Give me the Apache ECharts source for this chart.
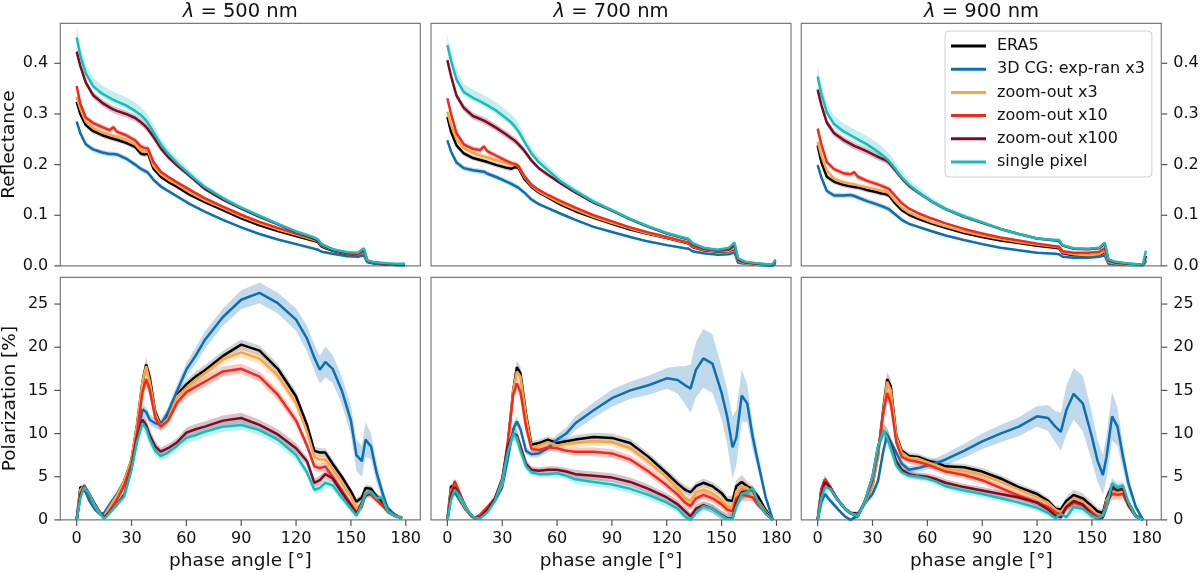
<!doctype html>
<html>
<head>
<meta charset="utf-8">
<title>phase angle</title>
<script src="https://cdn.jsdelivr.net/npm/echarts@6/dist/echarts.min.js"></script>
</head>
<body style="margin:0;padding:0">
<div id="main" style="width:1200px;height:573px;"></div>
<script>
// phase angles (deg) for reflectance and polarization curves
var angR = [0,2,5,9,14,18,20,22,27,32, 35,37,39,42,46,50,55,62,70,80, 90,100,110,120,130,132,134,140,148,154, 157,159,163,170,176,178,179.5];
var angP = [0,2,4,7,10,13,15,18,22,26, 30,33,36,38,40,43,46,50,55,60, 65,70,80,90,100,110,120,126,130,133, 136,140,145,150,153,156,158,161,164,167, 170,174,178];

var names = ['ERA5', '3D CG: exp-ran x3', 'zoom-out x3', 'zoom-out x10', 'zoom-out x100', 'single pixel'];
var waves = ['500', '700', '900'];
var xTicks = [0, 30, 60, 90, 120, 150, 180];
var reflTicks = [0, 0.1, 0.2, 0.3, 0.4];
var polTicks = [0, 5, 10, 15, 20, 25];

// reflectance, 500 nm
var r500Era5 = [0.324,0.300,0.278,0.266,0.258,0.253,0.251,0.249,0.243,0.235, 0.222,0.220,0.222,0.192,0.176,0.166,0.156,0.140,0.126,0.110, 0.094,0.080,0.069,0.059,0.049,0.047,0.038,0.030,0.023,0.021, 0.025,0.008,0.005,0.003,0.002,0.002,0.002];
var r500Cg = [0.285,0.262,0.240,0.230,0.224,0.221,0.221,0.220,0.212,0.200, 0.192,0.188,0.184,0.170,0.157,0.148,0.137,0.122,0.107,0.091, 0.076,0.063,0.052,0.043,0.034,0.032,0.028,0.024,0.019,0.018, 0.021,0.007,0.004,0.003,0.002,0.002,0.002];
var r500Z3 = [0.333,0.310,0.285,0.272,0.264,0.259,0.257,0.255,0.249,0.240, 0.228,0.225,0.227,0.198,0.181,0.171,0.161,0.145,0.130,0.114, 0.098,0.084,0.072,0.062,0.051,0.049,0.040,0.031,0.025,0.023, 0.027,0.009,0.006,0.004,0.003,0.003,0.003];
var r500Z10 = [0.355,0.320,0.293,0.282,0.274,0.268,0.274,0.265,0.258,0.248, 0.236,0.233,0.232,0.205,0.186,0.176,0.165,0.150,0.134,0.117, 0.101,0.087,0.075,0.064,0.053,0.050,0.041,0.031,0.025,0.023, 0.029,0.010,0.006,0.004,0.003,0.003,0.003];
var r500Z100 = [0.423,0.395,0.362,0.337,0.322,0.313,0.309,0.306,0.300,0.292, 0.284,0.278,0.270,0.255,0.232,0.215,0.198,0.177,0.152,0.131, 0.113,0.097,0.082,0.067,0.054,0.050,0.042,0.032,0.026,0.025, 0.033,0.010,0.006,0.004,0.003,0.003,0.003];
var r500Pix = [0.451,0.415,0.380,0.355,0.340,0.332,0.328,0.325,0.317,0.306, 0.298,0.291,0.282,0.264,0.240,0.222,0.203,0.180,0.156,0.134, 0.115,0.099,0.083,0.068,0.056,0.052,0.043,0.033,0.027,0.026, 0.035,0.011,0.007,0.005,0.004,0.004,0.004];

// reflectance, 700 nm
var r700Era5 = [0.294,0.265,0.238,0.222,0.213,0.209,0.207,0.205,0.199,0.194, 0.192,0.195,0.193,0.172,0.156,0.145,0.135,0.121,0.108,0.095, 0.083,0.072,0.063,0.055,0.046,0.044,0.037,0.031,0.028,0.029, 0.034,0.009,0.005,0.003,0.002,0.002,0.005];
var r700Cg = [0.248,0.226,0.204,0.193,0.189,0.187,0.186,0.182,0.175,0.167, 0.162,0.158,0.154,0.145,0.131,0.122,0.114,0.103,0.091,0.077, 0.067,0.057,0.048,0.041,0.035,0.034,0.029,0.025,0.022,0.023, 0.027,0.006,0.004,0.002,0.001,0.001,0.004];
var r700Z3 = [0.304,0.278,0.250,0.232,0.223,0.218,0.216,0.214,0.208,0.203, 0.200,0.201,0.196,0.176,0.158,0.147,0.137,0.124,0.111,0.097, 0.085,0.074,0.064,0.056,0.047,0.045,0.038,0.032,0.029,0.030, 0.036,0.010,0.005,0.003,0.003,0.003,0.006];
var r700Z10 = [0.331,0.300,0.262,0.240,0.231,0.229,0.236,0.226,0.217,0.208, 0.203,0.201,0.197,0.178,0.160,0.150,0.140,0.128,0.115,0.100, 0.088,0.076,0.066,0.057,0.048,0.046,0.039,0.033,0.030,0.032, 0.040,0.011,0.006,0.004,0.003,0.003,0.008];
var r700Z100 = [0.406,0.375,0.336,0.312,0.296,0.290,0.287,0.283,0.272,0.260, 0.252,0.247,0.240,0.228,0.208,0.193,0.180,0.163,0.145,0.125, 0.109,0.092,0.077,0.064,0.054,0.052,0.044,0.035,0.031,0.034, 0.043,0.013,0.007,0.004,0.003,0.003,0.010];
var r700Pix = [0.436,0.405,0.368,0.343,0.332,0.325,0.321,0.317,0.306,0.292, 0.283,0.275,0.265,0.246,0.222,0.205,0.189,0.167,0.148,0.127, 0.110,0.093,0.078,0.065,0.055,0.053,0.045,0.036,0.032,0.036, 0.046,0.015,0.008,0.005,0.003,0.004,0.013];

// reflectance, 900 nm
var r900Era5 = [0.238,0.205,0.176,0.166,0.160,0.157,0.156,0.155,0.150,0.146, 0.143,0.142,0.139,0.125,0.110,0.101,0.093,0.084,0.075,0.065, 0.057,0.050,0.045,0.040,0.036,0.035,0.025,0.021,0.020,0.021, 0.028,0.007,0.004,0.003,0.002,0.002,0.011];
var r900Cg = [0.199,0.175,0.148,0.139,0.139,0.140,0.138,0.135,0.128,0.122, 0.118,0.115,0.112,0.103,0.091,0.083,0.077,0.069,0.060,0.051, 0.043,0.036,0.031,0.026,0.024,0.023,0.018,0.016,0.016,0.018, 0.021,0.004,0.003,0.002,0.002,0.002,0.008];
var r900Z3 = [0.245,0.218,0.188,0.172,0.165,0.162,0.161,0.159,0.155,0.151, 0.148,0.147,0.143,0.130,0.115,0.105,0.097,0.087,0.078,0.068, 0.060,0.053,0.047,0.042,0.038,0.037,0.027,0.023,0.021,0.023, 0.030,0.008,0.005,0.003,0.002,0.002,0.014];
var r900Z10 = [0.271,0.240,0.205,0.191,0.183,0.181,0.185,0.176,0.168,0.162, 0.158,0.155,0.152,0.140,0.124,0.113,0.104,0.094,0.084,0.073, 0.064,0.056,0.050,0.044,0.039,0.038,0.029,0.026,0.026,0.028, 0.035,0.010,0.006,0.004,0.003,0.003,0.020];
var r900Z100 = [0.348,0.318,0.283,0.262,0.249,0.241,0.237,0.234,0.226,0.217, 0.212,0.209,0.204,0.191,0.173,0.158,0.145,0.128,0.112,0.097, 0.085,0.073,0.063,0.054,0.050,0.049,0.040,0.034,0.033,0.035, 0.044,0.012,0.007,0.004,0.003,0.003,0.020];
var r900Pix = [0.374,0.340,0.303,0.280,0.266,0.258,0.254,0.250,0.240,0.228, 0.220,0.214,0.207,0.194,0.175,0.160,0.146,0.128,0.112,0.098, 0.086,0.073,0.063,0.054,0.051,0.051,0.041,0.035,0.034,0.036, 0.046,0.013,0.008,0.005,0.003,0.004,0.030];

// reflectance band half widths (below / above the line)
var reflSd = [0.005,0.005,0.005,0.005,0.005,0.005,0.005,0.005,0.005,0.005, 0.005,0.005,0.005,0.004,0.004,0.003,0.003,0.003,0.002,0.002, 0.002,0.002,0.002,0.002,0.002,0.002,0.002,0.002,0.001,0.001, 0.001,0.001,0.001,0.001,0.001,0.001,0.001];
var reflZ100Sd = [0.008,0.007,0.007,0.007,0.007,0.007,0.007,0.007,0.007,0.007, 0.007,0.007,0.007,0.006,0.005,0.004,0.004,0.003,0.003,0.003, 0.002,0.002,0.002,0.002,0.002,0.002,0.002,0.002,0.002,0.002, 0.002,0.002,0.002,0.002,0.002,0.002,0.002];
var reflPixLo = [0.010,0.008,0.007,0.007,0.007,0.007,0.007,0.007,0.007,0.007, 0.007,0.007,0.007,0.007,0.006,0.006,0.005,0.004,0.004,0.003, 0.003,0.003,0.003,0.003,0.002,0.002,0.002,0.002,0.002,0.002, 0.002,0.002,0.002,0.002,0.002,0.002,0.002];
var reflPixUp = [0.020,0.018,0.017,0.016,0.016,0.016,0.016,0.016,0.016,0.016, 0.016,0.016,0.015,0.014,0.012,0.011,0.010,0.008,0.006,0.005, 0.004,0.003,0.003,0.003,0.003,0.003,0.003,0.003,0.002,0.002, 0.002,0.002,0.002,0.002,0.002,0.002,0.002];

// polarization [%], 500 nm
var p500Era5 = [0,3.8,3.6,2.5,1.5,0.7,0.6,1.5,2.8,4.5, 7.0,11.0,16.0,18.0,16.5,12.5,11.0,12.0,14.5,15.7, 16.6,17.3,19.0,20.3,19.6,17.5,14.3,11.0,8.0,7.8, 7.8,6.5,5.0,3.3,2.1,2.6,3.7,3.6,2.7,2.0, 1.3,0.6,0.2];
var p500Cg = [0,2.8,3.7,2.2,1.2,0.6,0.8,1.8,3.0,4.5, 6.8,9.5,12.8,12.5,11.6,11.2,11.0,12.5,15.0,17.4, 19.0,20.8,23.5,25.5,26.3,25.1,23.2,21.0,18.8,17.4, 18.3,17.5,15.0,11.5,7.5,6.8,9.3,8.5,5.5,3.3, 1.4,0.5,0.2];
var p500Z3 = [0,3.5,3.9,2.8,1.6,0.6,0.4,1.5,2.8,4.5, 7.0,11.0,16.0,17.8,16.0,12.3,10.8,11.8,14.3,15.3, 16.2,17.0,18.6,19.4,18.7,16.7,13.5,10.2,7.3,7.0, 7.0,5.9,4.3,2.7,1.4,1.9,3.2,3.1,2.4,1.7, 1.0,0.5,0.3];
var p500Z10 = [0,3.0,4.0,3.0,1.8,0.7,0.3,1.0,2.3,4.0, 6.5,10.0,14.8,16.3,15.0,11.8,10.8,11.5,13.6,14.8, 15.4,16.0,17.2,17.5,16.6,14.5,11.5,8.6,6.2,6.0, 6.2,5.0,3.4,1.8,0.9,1.5,3.0,2.9,2.3,1.7, 1.0,0.5,0.2];
var p500Z100 = [0,2.8,3.9,2.9,1.8,0.8,0.2,0.9,1.8,2.9, 6.0,9.5,11.6,11.0,9.8,8.5,7.9,8.3,9.0,10.1, 10.5,10.8,11.5,11.8,11.0,9.9,8.3,6.8,4.3,4.6, 5.3,4.8,3.2,1.7,0.7,2.0,2.8,3.3,2.7,2.3, 1.0,0.5,0.2];
var p500Pix = [0,2.5,3.8,3.0,1.7,0.7,0.1,0.8,1.8,2.7, 5.8,9.0,11.2,10.6,9.3,8.0,7.4,7.8,8.6,9.5, 9.8,10.2,10.8,11.0,10.4,9.3,7.5,5.5,3.5,3.7, 4.3,4.0,2.6,1.3,0.5,1.8,3.0,3.3,2.5,2.6, 1.0,0.5,0.2];

// polarization [%], 700 nm
var p700Era5 = [0,3.9,3.7,2.3,1.2,0.5,0.2,0.3,1.2,2.3, 4.2,8.5,15.0,17.7,17.0,12.3,8.7,8.9,9.3,8.9, 9.1,9.3,9.6,9.5,8.9,7.3,5.4,4.2,3.5,3.2, 3.9,4.3,3.9,3.1,2.3,2.2,3.9,4.4,3.9,3.5, 2.7,1.2,0];
var p700Cg = [0,2.5,3.2,2.2,1.3,0.6,0.2,0.5,1.3,2.2, 3.8,7.0,10.5,11.4,10.5,8.0,7.6,7.7,8.3,9.3, 10.0,11.2,12.7,14.1,15.0,15.6,16.4,16.2,15.6,15.2, 17.4,18.7,18.1,14.7,12.0,8.4,9.5,14.4,13.5,9.6, 6.6,2.7,0];
var p700Z3 = [0,3.5,3.9,2.5,1.3,0.4,0.2,0.4,1.3,2.4, 4.2,8.4,15.0,17.2,16.6,12.0,8.4,8.6,9.0,8.6, 8.8,8.9,9.1,9.0,8.3,6.7,4.9,3.6,2.6,2.2, 3.2,3.5,3.1,2.3,1.6,1.4,3.3,3.9,3.7,3.0, 2.2,1.0,0];
var p700Z10 = [0,3.0,4.5,3.0,1.5,0.5,0.2,0.6,1.5,2.5, 4.5,9.0,14.5,15.8,14.8,10.8,8.2,8.1,8.4,8.3, 8.0,7.9,7.9,7.7,7.0,5.6,4.0,2.9,2.0,1.6, 2.5,2.9,2.5,1.8,1.2,1.0,2.5,2.9,2.8,2.6, 1.7,0.8,0];
var p700Z100 = [0,2.8,3.8,2.8,1.5,0.5,0.2,0.3,1.2,2.5, 4.8,8.5,10.0,9.8,8.5,6.5,5.8,5.7,5.8,5.8, 5.6,5.3,5.1,4.9,4.4,3.6,2.6,1.8,1.0,0.4, 1.3,1.7,1.3,0.6,0.2,0.2,2.0,3.2,3.3,3.5, 2.0,0.8,0];
var p700Pix = [0,2.3,3.5,2.7,1.5,0.6,0.2,0.2,0.9,2.2, 4.6,7.8,10.0,9.5,8.0,6.2,5.5,5.3,5.3,5.4, 5.1,4.7,4.4,4.1,3.6,2.9,2.0,1.3,0.4,0.0, 0.8,1.6,1.3,0.5,0.1,0.1,1.5,3.0,3.2,3.7, 2.0,0.7,0];

// polarization [%], 900 nm
var p900Era5 = [0,3.5,4.7,3.6,2.6,1.8,1.3,0.8,0.7,2.0, 4.0,7.5,13.1,16.3,15.5,9.8,8.0,7.4,7.3,6.9, 6.6,6.2,6.1,5.6,4.8,3.8,3.0,2.2,1.3,1.2, 2.2,2.9,2.5,1.6,1.0,0.8,2.5,3.9,3.5,3.5, 2.0,0.5,0];
var p900Cg = [0,2.0,3.0,2.2,1.5,0.8,0.4,0.0,0.5,2.0, 3.0,4.5,8.1,9.8,9.0,7.8,6.5,5.8,6.0,6.3, 6.6,7.0,8.0,9.1,10.0,10.8,12.0,11.8,10.8,10.2, 12.7,14.6,13.5,9.6,6.9,5.2,7.3,12.0,10.8,7.3, 4.2,1.5,0];
var p900Z3 = [0,3.3,4.5,3.7,2.6,1.8,1.2,0.7,0.6,2.0, 4.0,7.3,12.8,16.0,15.0,9.6,7.8,7.2,7.1,6.7, 6.3,5.9,5.7,5.2,4.4,3.5,2.6,2.0,1.2,0.9, 1.8,2.5,2.1,1.2,0.5,0.4,2.3,3.5,3.2,3.3, 1.8,0.4,0];
var p900Z10 = [0,3.5,4.7,3.8,2.7,1.8,1.3,0.8,0.5,2.2, 4.5,7.8,12.5,14.7,13.5,9.0,7.3,6.9,6.7,6.4, 6.0,5.6,5.2,4.6,3.7,2.8,2.0,1.5,0.9,0.6, 1.4,2.0,1.7,0.9,0.4,0.4,2.0,3.0,2.9,3.0, 1.6,0.4,0];
var p900Z100 = [0,2.8,4.4,3.7,2.6,1.8,1.3,0.8,0.4,2.3, 5.0,8.5,10.3,9.8,8.7,6.8,5.8,5.3,5.1,5.0, 4.7,4.3,3.8,3.4,3.0,2.6,2.0,1.2,0.5,0.3, 1.5,2.2,1.8,0.6,0.2,0.3,1.5,3.7,3.4,3.6, 1.8,0.4,0];
var p900Pix = [0,2.5,3.8,3.6,2.6,1.8,1.3,0.8,0.4,2.3, 5.0,8.5,10.3,9.6,8.3,6.3,5.5,5.1,5.0,4.8, 4.4,3.9,3.4,3.0,2.5,2.0,1.4,0.8,0.2,0.7, 0.3,1.5,1.3,0.5,0.2,0.5,1.5,4.2,3.7,4.0, 2.0,0.4,0];

// polarization spread: one for the 3D CG curve, one shared by the others
var p500Sd = [0,0.3,0.3,0.3,0.2,0.2,0.2,0.3,0.3,0.3, 0.4,0.5,0.7,0.8,0.7,0.6,0.5,0.5,0.5,0.6, 0.6,0.6,0.6,0.6,0.6,0.6,0.6,0.5,0.5,0.5, 0.5,0.5,0.5,0.4,0.4,0.4,0.4,0.4,0.4,0.3, 0.3,0.2,0.1];
var p500CgSd = [0,0.3,0.3,0.3,0.2,0.2,0.2,0.3,0.3,0.3, 0.4,0.5,0.6,0.6,0.6,0.6,0.6,0.6,0.7,0.8, 0.9,1.0,1.0,1.1,1.2,1.2,1.3,1.5,1.5,1.6, 1.8,1.6,1.6,1.7,1.8,1.8,2.0,1.5,1.2,0.8, 0.5,0.3,0.1];
var p700Sd = [0,0.3,0.3,0.3,0.2,0.2,0.2,0.3,0.3,0.3, 0.4,0.5,0.7,0.8,0.7,0.5,0.4,0.4,0.4,0.4, 0.4,0.5,0.5,0.5,0.5,0.5,0.5,0.5,0.5,0.5, 0.5,0.5,0.5,0.5,0.5,0.6,0.7,0.8,0.6,0.4, 0.3,0.2,0.1];
var p700CgSd = [0,0.3,0.3,0.3,0.2,0.2,0.2,0.3,0.3,0.3, 0.4,0.5,0.6,0.6,0.5,0.4,0.4,0.4,0.5,0.6, 0.7,0.8,0.9,1.0,1.0,1.1,1.2,1.6,2.2,2.8, 3.2,3.4,3.4,3.0,3.2,3.6,3.2,3.0,2.2,1.5, 1.0,0.5,0.1];
var p900Sd = [0,0.4,0.4,0.3,0.3,0.2,0.2,0.2,0.3,0.3, 0.4,0.5,0.8,0.9,0.8,0.5,0.4,0.4,0.4,0.4, 0.4,0.4,0.4,0.4,0.4,0.4,0.4,0.4,0.4,0.4, 0.5,0.6,0.6,0.5,0.4,0.4,0.6,0.7,0.6,0.5, 0.3,0.2,0.1];
var p900CgSd = [0,0.4,0.4,0.3,0.3,0.2,0.2,0.2,0.3,0.3, 0.4,0.5,0.6,0.6,0.6,0.5,0.4,0.4,0.4,0.5, 0.6,0.7,0.8,0.9,1.0,1.1,1.2,1.5,1.8,2.2, 2.8,3.0,3.2,2.8,2.4,2.3,2.5,2.8,2.2,1.5, 1.0,0.4,0.1];

var colors = ['#000000', '#0b6fb5', '#ffa341', '#f2291c', '#7d0b26', '#17bdbd'];
var font = 'DejaVu Sans';

var reflSets = [
    [r500Era5, r500Cg, r500Z3, r500Z10, r500Z100, r500Pix],
    [r700Era5, r700Cg, r700Z3, r700Z10, r700Z100, r700Pix],
    [r900Era5, r900Cg, r900Z3, r900Z10, r900Z100, r900Pix]
];
var reflLo = [reflSd, reflSd, reflSd, reflSd, reflZ100Sd, reflPixLo];
var reflHi = [reflSd, reflSd, reflSd, reflSd, reflZ100Sd, reflPixUp];
var polSets = [
    [p500Era5, p500Cg, p500Z3, p500Z10, p500Z100, p500Pix],
    [p700Era5, p700Cg, p700Z3, p700Z10, p700Z100, p700Pix],
    [p900Era5, p900Cg, p900Z3, p900Z10, p900Z100, p900Pix]
];
var polSds = [
    [p500Sd, p500CgSd, p500Sd, p500Sd, p500Sd, p500Sd],
    [p700Sd, p700CgSd, p700Sd, p700Sd, p700Sd, p700Sd],
    [p900Sd, p900CgSd, p900Sd, p900Sd, p900Sd, p900Sd]
];

var lefts = [60.3, 431, 801.3];
var tops = [23.3, 277.3];
var xMin = -8.95, xMax = 187.95;
var yMax = [0.479, 28.1];

var grids = [], xAxes = [], yAxes = [], bands = [], lines = [], ticks = [];

for (var row = 0; row < 2; row++) {
    for (var col = 0; col < 3; col++) {
        var gi = row * 3 + col;
        grids.push({
            left: lefts[col], top: tops[row], width: 360, height: 242.6,
            show: true, borderColor: '#7a7a7a', borderWidth: 1.2,
            backgroundColor: 'transparent', containLabel: false, outerBoundsMode: 'none'
        });
        xAxes.push({
            type: 'value', gridIndex: gi, min: xMin, max: xMax,
            axisLine: { show: false }, splitLine: { show: false }, axisTick: { show: false },
            axisLabel: { show: row === 1, customValues: xTicks, margin: 11, fontSize: 16, fontFamily: font, color: '#111' },
            name: row === 1 ? 'phase angle [°]' : '',
            nameLocation: 'middle', nameGap: 32,
            nameTextStyle: { fontSize: 18.5, fontFamily: font, color: '#111' }
        });
        var yt = row === 0 ? reflTicks : polTicks;
        yAxes.push({
            type: 'value', gridIndex: gi, min: 0, max: yMax[row],
            position: col === 2 ? 'right' : 'left',
            axisLine: { show: false }, splitLine: { show: false }, axisTick: { show: false },
            axisLabel: {
                show: col !== 1, customValues: yt, margin: 12, fontSize: 16, fontFamily: font, color: '#111',
                formatter: row === 0 ? function (v) { return v.toFixed(1); } : function (v) { return String(v); }
            },
            name: col === 0 ? (row === 0 ? 'Reflectance' : 'Polarization [%]') : '',
            nameLocation: 'middle', nameGap: 41,
            nameTextStyle: { fontSize: 18.5, fontFamily: font, color: '#111' }
        });

        var xs = row === 0 ? angR : angP;
        var sets = row === 0 ? reflSets[col] : polSets[col];
        for (var k = 0; k < 6; k++) {
            var lo = row === 0 ? reflLo[k] : polSds[col][k];
            var hi = row === 0 ? reflHi[k] : polSds[col][k];
            bands.push(makeBand(gi, xs, sets[k], lo, hi, colors[k], k === 0 ? 0.18 : 0.26));
            lines.push(makeLine(gi, xs, sets[k], k));
        }
        if (row === 1) ticks.push(makeTicks(gi, 'x', xTicks, 1));
        if (col === 0) ticks.push(makeTicks(gi, 'y', yt, -1));
        if (col === 2) ticks.push(makeTicks(gi, 'y', yt, 1));
    }
}

function makeBand(gi, xs, mid, lo, hi, color, op) {
    return {
        type: 'custom', coordinateSystem: 'cartesian2d', xAxisIndex: gi, yAxisIndex: gi,
        silent: true, z: 1, clip: true, animation: false,
        data: [[xs[0], mid[0]]],
        renderItem: function (params, api) {
            var pts = [];
            for (var i = 0; i < xs.length; i++) pts.push(api.coord([xs[i], mid[i] + hi[i]]));
            for (var j = xs.length - 1; j >= 0; j--) pts.push(api.coord([xs[j], Math.max(mid[j] - lo[j], 0)]));
            return { type: 'polygon', shape: { points: pts }, style: { fill: color, opacity: op } };
        }
    };
}

function makeLine(gi, xs, ys, k) {
    return {
        type: 'line', name: names[k], xAxisIndex: gi, yAxisIndex: gi,
        data: xs.map(function (x, i) { return [x, ys[i]]; }),
        showSymbol: false, symbol: 'none', smooth: false, silent: true, z: 3, animation: false,
        lineStyle: { color: colors[k], width: 2.5 },
        itemStyle: { color: colors[k] }
    };
}

// outward tick marks, placed through the axes' own scales
function makeTicks(gi, dim, values, dir) {
    var edge = dir < 0 ? xMin : xMax;
    return {
        type: 'custom', coordinateSystem: 'cartesian2d', xAxisIndex: gi, yAxisIndex: gi,
        silent: true, z: 5, clip: false, animation: false,
        data: values.map(function (v) { return dim === 'x' ? [v, 0] : [edge, v]; }),
        renderItem: function (params, api) {
            var p = api.coord([api.value(0), api.value(1)]);
            var shape = dim === 'x'
                ? { x1: p[0], y1: p[1], x2: p[0], y2: p[1] + 6 }
                : { x1: p[0], y1: p[1], x2: p[0] + dir * 6, y2: p[1] };
            return { type: 'line', shape: shape, style: { stroke: '#555', lineWidth: 1.2 } };
        }
    };
}

var centers = [240.2, 611, 981.5];
var titles = waves.map(function (w, i) {
    return {
        type: 'text', x: centers[i], y: 12, silent: true,
        style: {
            text: '{l|λ} = ' + w + ' nm', fontSize: 19.5, fontFamily: font, fill: '#111',
            align: 'center', verticalAlign: 'middle',
            rich: { l: { fontStyle: 'italic', fontSize: 19.5, fontFamily: font, fill: '#111' } }
        }
    };
});

var chart = echarts.init(document.getElementById('main'), null, { renderer: 'canvas' });
chart.setOption({
    animation: false,
    backgroundColor: '#ffffff',
    grid: grids,
    xAxis: xAxes,
    yAxis: yAxes,
    legend: {
        data: names, orient: 'vertical', left: 945, top: 31,
        icon: 'rect', itemWidth: 35, itemHeight: 3, itemGap: 3.2,
        padding: [5, 7, 5, 6], selectedMode: false,
        backgroundColor: '#ffffff', borderColor: '#d0d0d0', borderWidth: 1, borderRadius: 4,
        textStyle: { fontSize: 16, fontFamily: font, color: '#111', lineHeight: 20, padding: [0, 0, 0, 6] }
    },
    graphic: titles,
    series: bands.concat(lines).concat(ticks)
});
</script>
</body>
</html>
